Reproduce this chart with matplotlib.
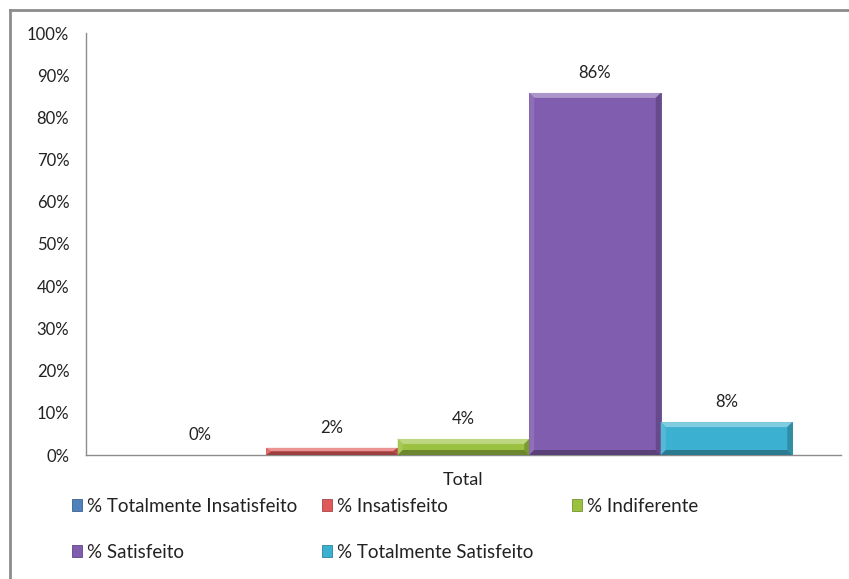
import numpy as np
import matplotlib
matplotlib.use('Agg')
import matplotlib.pyplot as plt
from matplotlib.patches import Polygon
from matplotlib.colors import to_rgb
from matplotlib.lines import Line2D

plt.rcParams['font.family'] = ['Lato', 'DejaVu Sans']

category = 'Total'
series = ['% Totalmente Insatisfeito', '% Insatisfeito', '% Indiferente',
          '% Satisfeito', '% Totalmente Satisfeito']
values = [0.0, 1.7, 3.8, 85.8, 7.8]
colors = ['#4F81BD', '#E05A5A', '#9BC140', '#805DAE', '#3CB0D0']
yticks = [0, 10, 20, 30, 40, 50, 60, 70, 80, 90, 100]

W, H = 849, 579
fig = plt.figure(figsize=(W / 100, H / 100), dpi=100)
ax = fig.add_axes([86 / W, (H - 455) / H, (841 - 86) / W, (455 - 33) / H])

n = len(series)
width = 0.871 / n
xs = (np.arange(n) - (n - 1) / 2) * width


def shade(c, f):
    r = np.array(to_rgb(c))
    if f > 0:
        return tuple(r + (1 - r) * f)
    return tuple(r * (1 + f))


bars = []
for x, v, c, name in zip(xs, values, colors, series):
    b = ax.bar(x, v, width=width, color=c, label=name, zorder=2,
               edgecolor=shade(c, -0.25), linewidth=0.6)
    bars.append(b)
    # bevel
    bpx = 5.0
    dx = bpx / 755 * 1.0
    dy = min(bpx / 422 * 100, v / 2)
    l, r, t = x - width / 2, x + width / 2, v
    if v > 0:
        faces = [
            ([(l, t), (r, t), (r - dx, t - dy), (l + dx, t - dy)], shade(c, 0.35)),
            ([(l, 0), (l, t), (l + dx, t - dy), (l + dx, dy)], shade(c, 0.12)),
            ([(r, 0), (r, t), (r - dx, t - dy), (r - dx, dy)], shade(c, -0.2)),
            ([(l, 0), (r, 0), (r - dx, dy), (l + dx, dy)], shade(c, -0.3)),
        ]
        for pts, fc in faces:
            ax.add_patch(Polygon(pts, closed=True, facecolor=fc,
                                 edgecolor='none', zorder=3))
    ax.annotate(f'{v:.0f}%', (x, v), xytext=(0, 14.5), textcoords='offset points',
                ha='center', va='center', fontsize=12, color='#222222')

ax.set_xlim(-0.5, 0.5)
ax.set_ylim(0, 100)
ax.set_yticks(yticks)
ax.set_yticklabels([f'{t}%' for t in yticks], fontsize=12, color='#222222')
ax.set_xticks([0])
ax.set_xticklabels([category], fontsize=13, color='#222222')
ax.tick_params(axis='y', length=0, pad=12)
ax.tick_params(axis='x', length=0, pad=12)
for s in ['top', 'right']:
    ax.spines[s].set_visible(False)
for s in ['left', 'bottom']:
    ax.spines[s].set_color('#8c8c8c')
    ax.spines[s].set_linewidth(1)

# legend entries, placed like the original layout
leg_pos = [(64, 506), (314, 506), (564, 506), (64, 552), (314, 552)]
for b, name, (px, py) in zip(bars, series, leg_pos):
    lg = fig.legend([b], [name], loc='center left',
                    bbox_to_anchor=(px / W, (H - py) / H), frameon=False,
                    handlelength=0.55, handleheight=0.55, handletextpad=0.3,
                    fontsize=13.5, borderaxespad=0, labelcolor='#222222')

# outer chart border
fig.add_artist(Line2D([10 / W, 10 / W], [0, (H - 10) / H], color='#8c8c8c', lw=2,
                      transform=fig.transFigure))
fig.add_artist(Line2D([10 / W, 1], [(H - 10) / H, (H - 10) / H], color='#8c8c8c', lw=2,
                      transform=fig.transFigure))

fig.savefig('out.png', dpi=100)
